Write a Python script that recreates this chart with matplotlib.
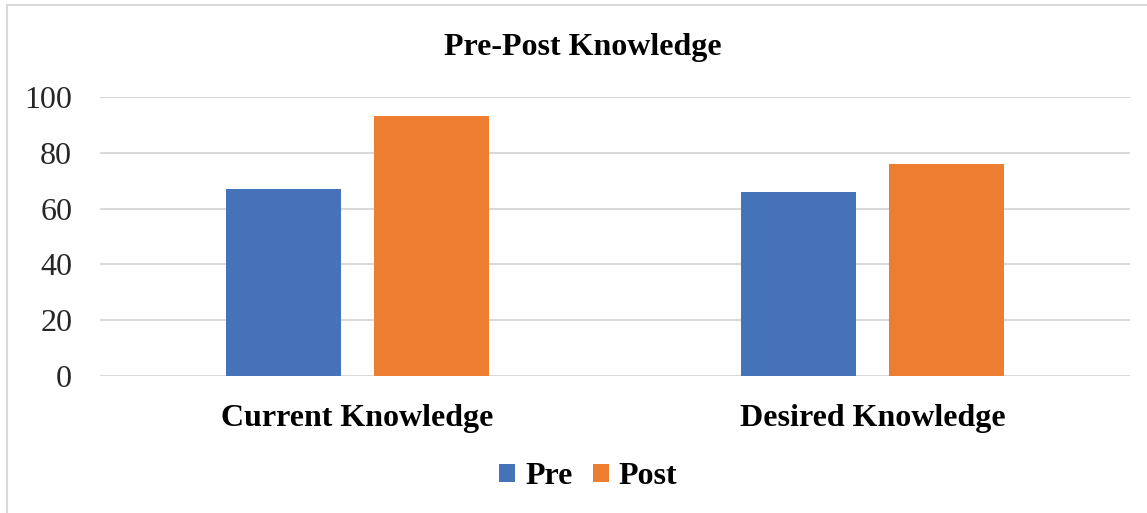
import matplotlib.pyplot as plt
import numpy as np
from matplotlib.lines import Line2D

categories = ['Current Knowledge', 'Desired Knowledge']
pre = [67, 66]
post = [93, 76]
yticks = [0, 20, 40, 60, 80, 100]

plt.rcParams['font.family'] = ['Liberation Serif', 'DejaVu Serif']

fig = plt.figure(figsize=(11.47, 5.13), dpi=100)
ax = fig.add_axes([0.0872, 0.267, 0.898, 0.544])

x = np.arange(len(categories))
w = 0.223
off = 0.143
ax.bar(x - off, pre, w, color='#4672b8', label='Pre', zorder=3)
ax.bar(x + off, post, w, color='#ed7d31', label='Post', zorder=3)

ax.set_xlim(-0.5, 1.5)
ax.set_ylim(0, 100)
ax.set_yticks(yticks)
ax.set_xticks(x)
ax.set_xticklabels(categories, fontsize=23, fontweight='bold')
ax.tick_params(axis='y', labelsize=23, length=0, pad=20, colors='#262626')
ax.tick_params(axis='x', length=0, pad=20)
ax.grid(axis='y', color='#d9d9d9', linewidth=1.5, zorder=0)
for s in ax.spines.values():
    s.set_visible(False)

fig.text(0.508, 0.907, 'Pre-Post Knowledge', ha='center', va='center',
         fontsize=23, fontweight='bold')

fig.legend(loc='center', bbox_to_anchor=(0.513, 0.071), ncol=2, frameon=False,
           prop={'size': 23, 'weight': 'bold'}, handlelength=0.5, handleheight=0.5,
           handletextpad=0.3, columnspacing=0.65)

# border on left and top only, like the source picture
fig.add_artist(Line2D([0.006, 0.006], [0.0, 0.990], transform=fig.transFigure,
                      color='#d9d9d9', linewidth=1.5))
fig.add_artist(Line2D([0.006, 1.0], [0.990, 0.990], transform=fig.transFigure,
                      color='#d9d9d9', linewidth=1.5))

fig.savefig('out.png', dpi=100)
